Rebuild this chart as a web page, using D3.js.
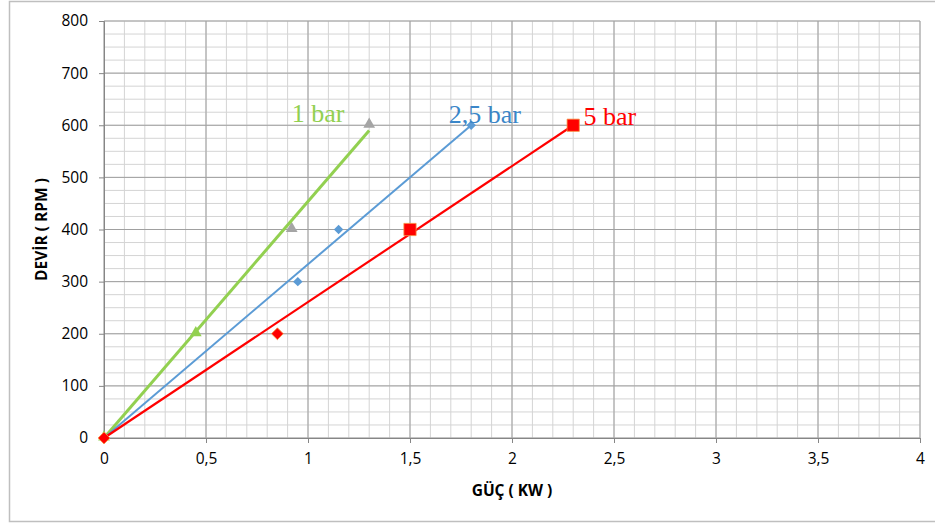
<!DOCTYPE html>
<html>
<head>
    <meta charset="utf-8">
    <title>Devir - Güç</title>
    <script src="https://cdn.jsdelivr.net/npm/d3@7"></script>
    <style>
        body { margin: 0; background: #fff; }
        text { font-family: "Open Sans", "Liberation Sans", sans-serif; }
    </style>
</head>
<body>
    <script>
        // Mätvärden (GÜÇ kW, DEVİR rpm)
        var bar1X = [0, 0.45, 0.92, 1.3];
        var bar1Y = [0, 200, 400, 600];
        var bar1MarkerColor = ["#92D050", "#92D050", "#A5A5A5", "#A5A5A5"];

        var bar25X = [0, 0.95, 1.15, 1.8];
        var bar25Y = [0, 300, 400, 600];

        var bar5X = [0, 0.85, 1.5, 2.3];
        var bar5Y = [0, 200, 400, 600];
        var bar5Shape = ["diamond", "diamond", "square", "square"];

        // Linjerna (start- och slutpunkt)
        var line1 = [[0, 0], [1.3, 590]];
        var line25 = [[0, 0], [1.8, 600]];
        var line5 = [[0, 0], [2.3, 600]];

        // Etiketter
        var labelText = ["1 bar", "2,5 bar", "5 bar"];
        var labelX = [0.92, 1.69, 2.35];
        var labelY = [607, 605, 600];
        var labelColor = ["#92D050", "#3A86C8", "#FF0000"];

        var xTicks = [0, 0.5, 1, 1.5, 2, 2.5, 3, 3.5, 4];
        var yTicks = [0, 100, 200, 300, 400, 500, 600, 700, 800];

        var svgWidth = 935;
        var svgHeight = 524;
        var plotLeft = 104, plotRight = 920, plotTop = 21, plotBottom = 438;

        var svg = d3.select("body")
                    .append("svg")
                    .attr("width", svgWidth)
                    .attr("height", svgHeight);

        // Ram runt diagrammet
        svg.append("rect")
            .attr("x", 9.5).attr("y", 1.5)
            .attr("width", 940).attr("height", 520)
            .attr("fill", "none")
            .attr("stroke", "#BFBFBF")
            .attr("stroke-width", 1.5);

        var x = d3.scaleLinear().domain([0, 4]).range([plotLeft, plotRight]);
        var y = d3.scaleLinear().domain([0, 800]).range([plotBottom, plotTop]);

        var fmt = function(d) { return String(d).replace(".", ","); };

        // Rutnät: fina linjer
        svg.append("g").selectAll("line")
            .data(d3.range(0, 41).map(function(i) { return i / 10; }))
            .enter().append("line")
            .attr("x1", function(d) { return x(d); })
            .attr("x2", function(d) { return x(d); })
            .attr("y1", plotTop).attr("y2", plotBottom)
            .attr("stroke", "#D4D4D4").attr("stroke-width", 1);

        svg.append("g").selectAll("line")
            .data(d3.range(0, 33).map(function(i) { return i * 25; }))
            .enter().append("line")
            .attr("y1", function(d) { return y(d); })
            .attr("y2", function(d) { return y(d); })
            .attr("x1", plotLeft).attr("x2", plotRight)
            .attr("stroke", "#D4D4D4").attr("stroke-width", 1);

        // Rutnät: huvudlinjer
        svg.append("g").selectAll("line")
            .data(xTicks)
            .enter().append("line")
            .attr("x1", function(d) { return x(d); })
            .attr("x2", function(d) { return x(d); })
            .attr("y1", plotTop).attr("y2", plotBottom)
            .attr("stroke", "#A0A0A0").attr("stroke-width", 1);

        svg.append("g").selectAll("line")
            .data(yTicks)
            .enter().append("line")
            .attr("y1", function(d) { return y(d); })
            .attr("y2", function(d) { return y(d); })
            .attr("x1", plotLeft).attr("x2", plotRight)
            .attr("stroke", "#A0A0A0").attr("stroke-width", 1);

        // Axlar
        var xAxis = svg.append("g")
            .attr("transform", "translate(0," + plotBottom + ")")
            .call(d3.axisBottom(x).tickValues(xTicks).tickFormat(fmt).tickSize(5).tickPadding(10));
        var yAxis = svg.append("g")
            .attr("transform", "translate(" + plotLeft + ",0)")
            .call(d3.axisLeft(y).tickValues(yTicks).tickSize(5).tickPadding(11));
        [xAxis, yAxis].forEach(function(a) {
            a.select(".domain").attr("stroke", "#868686");
            a.selectAll(".tick line").attr("stroke", "#868686");
            a.selectAll(".tick text").attr("font-size", 15.5).attr("fill", "#000")
                .style("font-family", "'Open Sans', sans-serif");
        });

        // Axeltitlar
        svg.append("text")
            .attr("x", (plotLeft + plotRight) / 2).attr("y", 496)
            .attr("text-anchor", "middle")
            .attr("font-size", 15.5).attr("font-weight", "bold")
            .text("GÜÇ ( KW )");
        svg.append("text")
            .attr("transform", "translate(47," + ((plotTop + plotBottom) / 2) + ") rotate(-90)")
            .attr("text-anchor", "middle")
            .attr("font-size", 15.5).attr("font-weight", "bold")
            .text("DEVİR ( RPM )");

        // Markörer
        var tri = d3.symbol().type(d3.symbolTriangle).size(60);
        var sq = d3.symbol().type(d3.symbolSquare);

        svg.append("g").selectAll("path")
            .data(bar1X)
            .enter().append("path")
            .attr("d", tri)
            .attr("transform", function(d, i) { return "translate(" + x(d) + "," + (y(bar1Y[i]) - 1) + ")"; })
            .attr("fill", function(d, i) { return bar1MarkerColor[i]; });

        svg.append("g").selectAll("path")
            .data(bar25X)
            .enter().append("path")
            .attr("d", sq.size(45))
            .attr("transform", function(d, i) { return "translate(" + x(d) + "," + y(bar25Y[i]) + ") rotate(45)"; })
            .attr("fill", "#5B9BD5");

        // Linjer
        var lineGen = d3.line()
            .x(function(d) { return x(d[0]); })
            .y(function(d) { return y(d[1]); });

        svg.append("path").datum(line1).attr("d", lineGen)
            .attr("stroke", "#92D050").attr("stroke-width", 3).attr("fill", "none");
        svg.append("path").datum(line25).attr("d", lineGen)
            .attr("stroke", "#5B9BD5").attr("stroke-width", 2).attr("fill", "none");
        svg.append("path").datum(line5).attr("d", lineGen)
            .attr("stroke", "#FF0000").attr("stroke-width", 2.2).attr("fill", "none");

        svg.append("g").selectAll("path")
            .data(bar5X)
            .enter().append("path")
            .attr("d", function(d, i) { return bar5Shape[i] === "square" ? sq.size(150)() : sq.size(70)(); })
            .attr("transform", function(d, i) {
                return "translate(" + x(d) + "," + y(bar5Y[i]) + ")" + (bar5Shape[i] === "diamond" ? " rotate(45)" : "");
            })
            .attr("fill", "#FF0000")
            .attr("stroke", "#F79646").attr("stroke-width", 0.8);

        // Etiketter
        svg.append("g").selectAll("text")
            .data(labelText)
            .enter().append("text")
            .attr("x", function(d, i) { return x(labelX[i]); })
            .attr("y", function(d, i) { return y(labelY[i]); })
            .attr("fill", function(d, i) { return labelColor[i]; })
            .attr("font-size", 26)
            .style("font-family", "'Liberation Serif', 'DejaVu Serif', serif")
            .text(function(d) { return d; });
    </script>
</body>
</html>
